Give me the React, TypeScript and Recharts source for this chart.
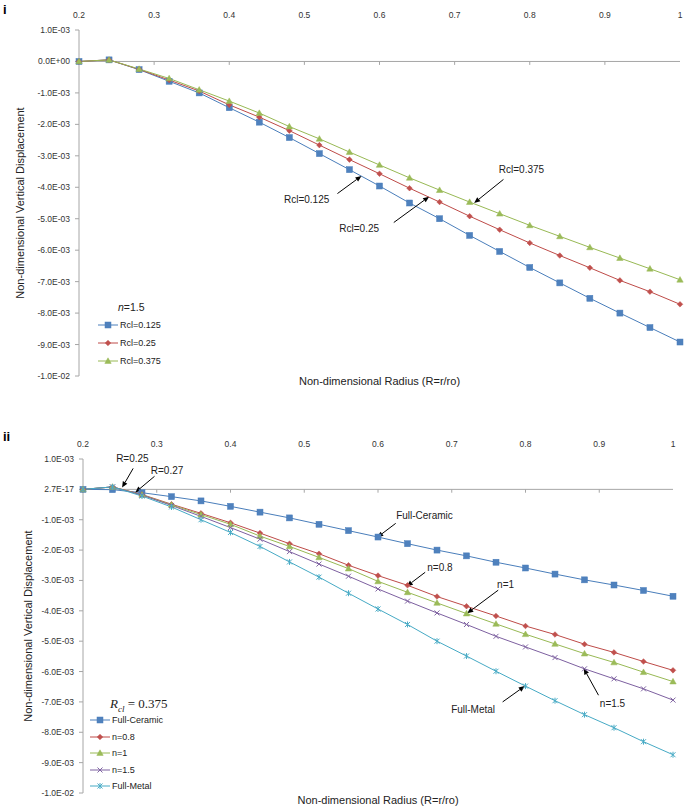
import React from 'react';
import { LineChart, Line, XAxis, YAxis, ReferenceLine, ReferenceDot, Legend } from 'recharts';

// shared x values (R = r/ro)
const radius = [0.2, 0.24, 0.28, 0.32, 0.36, 0.4, 0.44, 0.48, 0.52, 0.56, 0.6, 0.64, 0.68, 0.72, 0.76, 0.8, 0.84, 0.88, 0.92, 0.96, 1.0];
const xTicks = [0.2, 0.3, 0.4, 0.5, 0.6, 0.7, 0.8, 0.9, 1.0];
const xTickLabels = ['0.2', '0.3', '0.4', '0.5', '0.6', '0.7', '0.8', '0.9', '1'];
const yTicks = [1e-3, 0, -1e-3, -2e-3, -3e-3, -4e-3, -5e-3, -6e-3, -7e-3, -8e-3, -9e-3, -1e-2];
const yTickLabelsI = ['1.0E-03', '0.0E+00', '-1.0E-03', '-2.0E-03', '-3.0E-03', '-4.0E-03', '-5.0E-03', '-6.0E-03', '-7.0E-03', '-8.0E-03', '-9.0E-03', '-1.0E-02'];
const yTickLabelsII = ['1.0E-03', '2.7E-17', '-1.0E-03', '-2.0E-03', '-3.0E-03', '-4.0E-03', '-5.0E-03', '-6.0E-03', '-7.0E-03', '-8.0E-03', '-9.0E-03', '-1.0E-02'];

// panel i : n = 1.5
const rcl0125 = [0, 0.05e-3, -0.26e-3, -0.63e-3, -1.0e-3, -1.47e-3, -1.93e-3, -2.42e-3, -2.93e-3, -3.44e-3, -3.96e-3, -4.5e-3, -5.0e-3, -5.53e-3, -6.04e-3, -6.55e-3, -7.04e-3, -7.53e-3, -8.0e-3, -8.46e-3, -8.92e-3];
const rcl025 = [0, 0.05e-3, -0.25e-3, -0.59e-3, -0.94e-3, -1.38e-3, -1.77e-3, -2.2e-3, -2.66e-3, -3.12e-3, -3.57e-3, -4.03e-3, -4.47e-3, -4.92e-3, -5.35e-3, -5.77e-3, -6.17e-3, -6.56e-3, -6.96e-3, -7.32e-3, -7.72e-3];
const rcl0375 = [0, 0.05e-3, -0.24e-3, -0.54e-3, -0.9e-3, -1.26e-3, -1.64e-3, -2.07e-3, -2.46e-3, -2.88e-3, -3.29e-3, -3.7e-3, -4.09e-3, -4.47e-3, -4.84e-3, -5.21e-3, -5.56e-3, -5.91e-3, -6.25e-3, -6.59e-3, -6.94e-3];

// panel ii : Rcl = 0.375
const fullCeramic = [0, -0.01e-3, -0.11e-3, -0.24e-3, -0.38e-3, -0.56e-3, -0.75e-3, -0.94e-3, -1.15e-3, -1.36e-3, -1.57e-3, -1.79e-3, -2.0e-3, -2.19e-3, -2.4e-3, -2.59e-3, -2.79e-3, -2.98e-3, -3.15e-3, -3.33e-3, -3.52e-3];
const n08 = [0, 0.08e-3, -0.17e-3, -0.49e-3, -0.79e-3, -1.1e-3, -1.44e-3, -1.79e-3, -2.12e-3, -2.5e-3, -2.84e-3, -3.16e-3, -3.53e-3, -3.85e-3, -4.17e-3, -4.5e-3, -4.78e-3, -5.1e-3, -5.37e-3, -5.67e-3, -5.96e-3];
const n1 = [0, 0.08e-3, -0.18e-3, -0.51e-3, -0.83e-3, -1.15e-3, -1.54e-3, -1.88e-3, -2.24e-3, -2.61e-3, -3.03e-3, -3.39e-3, -3.74e-3, -4.09e-3, -4.43e-3, -4.77e-3, -5.09e-3, -5.41e-3, -5.7e-3, -6.02e-3, -6.33e-3];
const n15 = [0, 0.08e-3, -0.19e-3, -0.53e-3, -0.89e-3, -1.26e-3, -1.64e-3, -2.05e-3, -2.46e-3, -2.86e-3, -3.28e-3, -3.68e-3, -4.07e-3, -4.45e-3, -4.84e-3, -5.19e-3, -5.54e-3, -5.91e-3, -6.24e-3, -6.57e-3, -6.94e-3];
const fullMetal = [0, 0.08e-3, -0.22e-3, -0.58e-3, -1.0e-3, -1.42e-3, -1.88e-3, -2.39e-3, -2.89e-3, -3.42e-3, -3.94e-3, -4.45e-3, -5.0e-3, -5.49e-3, -5.99e-3, -6.48e-3, -6.96e-3, -7.42e-3, -7.85e-3, -8.31e-3, -8.74e-3];

const AXIS = '#a6a6a6';
const FONT = '"Liberation Sans", Arial, sans-serif';

type Shape = 'square' | 'diamond' | 'triangle' | 'cross' | 'star';

interface SeriesDef {
  key: string;
  name: string;
  stroke: string;
  fill: string;
  shape: Shape;
  values: number[];
}

interface Note {
  text: string;
  at: [number, number];
  from: [number, number];
  to: [number, number];
}

const seriesI: SeriesDef[] = [
  { key: 'a', name: 'Rcl=0.125', stroke: '#4a7ebb', fill: '#4f81bd', shape: 'square', values: rcl0125 },
  { key: 'b', name: 'Rcl=0.25', stroke: '#be4b48', fill: '#c0504d', shape: 'diamond', values: rcl025 },
  { key: 'c', name: 'Rcl=0.375', stroke: '#98b954', fill: '#9bbb59', shape: 'triangle', values: rcl0375 },
];

const seriesII: SeriesDef[] = [
  { key: 'a', name: 'Full-Ceramic', stroke: '#4a7ebb', fill: '#4f81bd', shape: 'square', values: fullCeramic },
  { key: 'b', name: 'n=0.8', stroke: '#be4b48', fill: '#c0504d', shape: 'diamond', values: n08 },
  { key: 'c', name: 'n=1', stroke: '#98b954', fill: '#9bbb59', shape: 'triangle', values: n1 },
  { key: 'd', name: 'n=1.5', stroke: '#7d60a0', fill: '#8064a2', shape: 'cross', values: n15 },
  { key: 'e', name: 'Full-Metal', stroke: '#46aac5', fill: '#4bacc6', shape: 'star', values: fullMetal },
];

const notesI: Note[] = [
  { text: 'Rcl=0.125', at: [0.503, -4.39e-3], from: [0.544, -4.2e-3], to: [0.576, -3.64e-3] },
  { text: 'Rcl=0.25', at: [0.573, -5.31e-3], from: [0.619, -5.12e-3], to: [0.666, -4.3e-3] },
  { text: 'Rcl=0.375', at: [0.789, -3.43e-3], from: [0.765, -3.75e-3], to: [0.726, -4.5e-3] },
];

const notesII: Note[] = [
  { text: 'R=0.25', at: [0.267, 1.02e-3], from: [0.268, 0.69e-3], to: [0.253, 0.06e-3] },
  { text: 'R=0.27', at: [0.314, 0.63e-3], from: [0.297, 0.43e-3], to: [0.271, -0.1e-3] },
  { text: 'Full-Ceramic', at: [0.663, -0.86e-3], from: [0.624, -1.12e-3], to: [0.599, -1.58e-3] },
  { text: 'n=0.8', at: [0.684, -2.57e-3], from: [0.664, -2.73e-3], to: [0.639, -3.19e-3] },
  { text: 'n=1', at: [0.773, -3.13e-3], from: [0.763, -3.32e-3], to: [0.721, -4.08e-3] },
  { text: 'n=1.5', at: [0.918, -7.04e-3], from: [0.899, -6.78e-3], to: [0.879, -5.9e-3] },
  { text: 'Full-Metal', at: [0.729, -7.24e-3], from: [0.769, -7.0e-3], to: [0.799, -6.48e-3] },
];

function Marker({ cx, cy, shape, fill, stroke }: { cx: number; cy: number; shape: Shape; fill: string; stroke: string }) {
  if (cx == null || cy == null) return null;
  switch (shape) {
    case 'square':
      return <rect x={cx - 3} y={cy - 3} width={6} height={6} fill={fill} stroke={stroke} strokeWidth={0.5} />;
    case 'diamond':
      return <polygon points={`${cx},${cy - 2.8} ${cx + 2.8},${cy} ${cx},${cy + 2.8} ${cx - 2.8},${cy}`} fill={fill} stroke={stroke} strokeWidth={0.5} />;
    case 'triangle':
      return <polygon points={`${cx},${cy - 3.2} ${cx + 3.2},${cy + 2.4} ${cx - 3.2},${cy + 2.4}`} fill={fill} stroke={stroke} strokeWidth={0.5} />;
    case 'cross':
      return (
        <g stroke={fill} strokeWidth={1}>
          <line x1={cx - 2.5} y1={cy - 2.5} x2={cx + 2.5} y2={cy + 2.5} />
          <line x1={cx - 2.5} y1={cy + 2.5} x2={cx + 2.5} y2={cy - 2.5} />
        </g>
      );
    default:
      return (
        <g stroke={fill} strokeWidth={1}>
          <line x1={cx - 2.5} y1={cy - 2.5} x2={cx + 2.5} y2={cy + 2.5} />
          <line x1={cx - 2.5} y1={cy + 2.5} x2={cx + 2.5} y2={cy - 2.5} />
          <line x1={cx} y1={cy - 3} x2={cx} y2={cy + 3} />
        </g>
      );
  }
}

function Arrow(p: any) {
  const { x1, y1, x2, y2 } = p;
  const ang = Math.atan2(y2 - y1, x2 - x1);
  const len = 6;
  const half = 2.6;
  const bx = x2 - len * Math.cos(ang);
  const by = y2 - len * Math.sin(ang);
  const pts = `${x2},${y2} ${bx + half * Math.sin(ang)},${by - half * Math.cos(ang)} ${bx - half * Math.sin(ang)},${by + half * Math.cos(ang)}`;
  return (
    <g>
      <line x1={x1} y1={y1} x2={bx} y2={by} stroke="#000" strokeWidth={1} />
      <polygon points={pts} fill="#000" />
    </g>
  );
}

interface PanelProps {
  series: SeriesDef[];
  notes: Note[];
  yLabels: string[];
  height: number;
  yAxisWidth: number;
  right: number;
  topAxis: number;
  bottomAxis: number;
  xLabelOffset: number;
  yLabelOffset: number;
  legendLeft: number;
  legendTop: number;
  rowHeight: number;
  titleHeight: number;
  title: React.ReactNode;
}

function Panel(props: PanelProps) {
  const { series, notes, yLabels } = props;
  const data = radius.map((r, i) => {
    const row: Record<string, number> = { r };
    series.forEach((s) => {
      row[s.key] = s.values[i];
    });
    return row;
  });

  const renderLegend = () => (
    <div style={{ fontFamily: FONT, fontSize: 9, color: '#222' }}>
      <div style={{ height: props.titleHeight, lineHeight: `${props.titleHeight}px`, paddingLeft: 20 }}>{props.title}</div>
      {series.map((s) => (
        <div key={s.key} style={{ height: props.rowHeight, display: 'flex', alignItems: 'center' }}>
          <svg width={20} height={10} style={{ display: 'block' }}>
            <line x1={0} y1={5} x2={20} y2={5} stroke={s.stroke} strokeWidth={1} />
            <Marker cx={10} cy={5} shape={s.shape} fill={s.fill} stroke={s.stroke} />
          </svg>
          <span style={{ marginLeft: 2 }}>{s.name}</span>
        </div>
      ))}
    </div>
  );

  return (
    <LineChart
      width={685}
      height={props.height}
      data={data}
      margin={{ top: 0, right: props.right, bottom: 0, left: 0 }}
      style={{ fontFamily: FONT }}
    >
      <XAxis
        dataKey="r"
        type="number"
        orientation="top"
        domain={[0.2, 1]}
        ticks={xTicks}
        tickFormatter={(v: number, i: number) => xTickLabels[i]}
        height={props.topAxis}
        axisLine={false}
        tickLine={false}
        tickSize={6}
        tickMargin={6}
        tick={{ fontSize: 8.5, fill: '#333' }}
        interval={0}
      />
      <XAxis
        xAxisId="b"
        dataKey="r"
        type="number"
        orientation="bottom"
        domain={[0.2, 1]}
        height={props.bottomAxis}
        axisLine={false}
        tickLine={false}
        tick={false}
        label={{ value: 'Non-dimensional Radius (R=r/ro)', position: 'insideTop', offset: props.xLabelOffset, style: { fontSize: 11, fill: '#222' } }}
      />
      <YAxis
        type="number"
        domain={[-0.01, 0.001]}
        ticks={yTicks}
        tickFormatter={(v: number, i: number) => yLabels[i]}
        width={props.yAxisWidth}
        stroke={AXIS}
        tickSize={4}
        tickMargin={5}
        tick={{ fontSize: 8.5, fill: '#333' }}
        interval={0}
        label={{
          value: 'Non-dimensional Vertical Displacement',
          angle: -90,
          position: 'insideLeft',
          offset: props.yLabelOffset,
          style: { textAnchor: 'middle', fontSize: 11, fill: '#222' },
        }}
      />
      <YAxis
        yAxisId="r"
        orientation="right"
        type="number"
        domain={[-0.01, 0.001]}
        ticks={yTicks}
        tickFormatter={() => ''}
        width={0}
        mirror
        stroke={AXIS}
        tickSize={4}
        interval={0}
      />
      <ReferenceLine y={0} stroke={AXIS} strokeWidth={1} />
      {xTicks.slice(1, -1).map((t) => (
        <ReferenceLine key={`t${t}`} segment={[{ x: t, y: 0 }, { x: t, y: -0.11e-3 }]} stroke={AXIS} />
      ))}
      {series.map((s) => (
        <Line
          key={s.key}
          dataKey={s.key}
          name={s.name}
          stroke={s.stroke}
          strokeWidth={1}
          isAnimationActive={false}
          dot={(p: any) => <Marker key={`${s.key}-${p.index}`} cx={p.cx} cy={p.cy} shape={s.shape} fill={s.fill} stroke={s.stroke} />}
          activeDot={false}
        />
      ))}
      {notes.map((n) => (
        <ReferenceLine
          key={`a-${n.text}`}
          segment={[{ x: n.from[0], y: n.from[1] }, { x: n.to[0], y: n.to[1] }]}
          shape={Arrow}
          ifOverflow="visible"
        />
      ))}
      {notes.map((n) => (
        <ReferenceDot
          key={`l-${n.text}`}
          x={n.at[0]}
          y={n.at[1]}
          r={0}
          ifOverflow="visible"
          shape={(p: any) => (
            <text x={p.cx} y={p.cy} textAnchor="middle" dominantBaseline="central" fontSize={10} fill="#222" fontFamily={FONT}>
              {n.text}
            </text>
          )}
        />
      ))}
      <Legend
        layout="vertical"
        align="center"
        verticalAlign="middle"
        content={renderLegend}
        wrapperStyle={{ left: props.legendLeft, top: props.legendTop, width: 'auto', height: 'auto' }}
      />
    </LineChart>
  );
}

export default function App() {
  return (
    <div style={{ position: 'absolute', left: 0, top: 0, width: 685, height: 808, background: '#fff', fontFamily: FONT }}>
      <div style={{ position: 'absolute', left: 3, top: 2, fontWeight: 'bold', fontSize: 13 }}>i</div>
      <div style={{ position: 'absolute', left: 3, top: 429, fontWeight: 'bold', fontSize: 13 }}>ii</div>
      <div style={{ position: 'absolute', left: 0, top: 0 }}>
        <Panel
          series={seriesI}
          notes={notesI}
          yLabels={yTickLabelsI}
          height={400}
          yAxisWidth={79}
          right={5}
          topAxis={30}
          bottomAxis={24}
          xLabelOffset={1}
          yLabelOffset={20}
          legendLeft={98}
          legendTop={298}
          rowHeight={18}
          titleHeight={18}
          title={
            <span style={{ fontSize: 10.5 }}>
              <i>n</i>=1.5
            </span>
          }
        />
      </div>
      <div style={{ position: 'absolute', left: 0, top: 425 }}>
        <Panel
          series={seriesII}
          notes={notesII}
          yLabels={yTickLabelsII}
          height={383}
          yAxisWidth={83}
          right={12}
          topAxis={34}
          bottomAxis={15}
          xLabelOffset={3}
          yLabelOffset={28}
          legendLeft={90}
          legendTop={271}
          rowHeight={16.5}
          titleHeight={16}
          title={
            <span style={{ fontFamily: '"Liberation Serif", "DejaVu Serif", serif', fontSize: 13 }}>
              <i>R</i>
              <sub style={{ fontSize: 9 }}>
                <i>cl</i>
              </sub>
              {' = 0.375'}
            </span>
          }
        />
      </div>
    </div>
  );
}
